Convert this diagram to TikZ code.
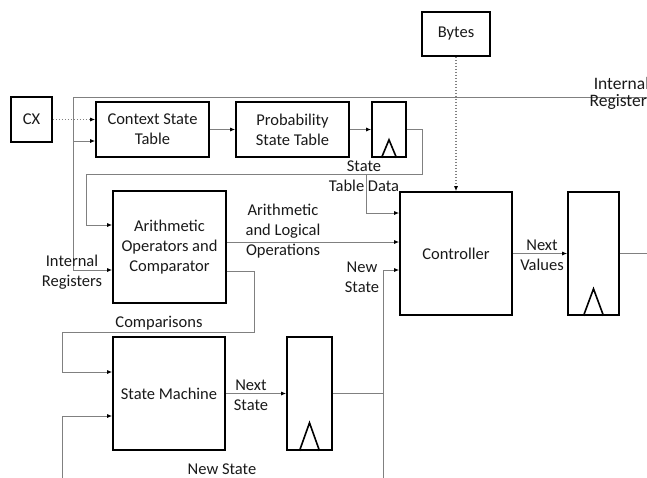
\documentclass[tikz,border=0pt]{standalone}
\usepackage{fontspec}
\setmainfont{Carlito}
\usetikzlibrary{arrows.meta}
\definecolor{lc}{RGB}{128,128,128}
\definecolor{tc}{RGB}{25,25,25}
\newcommand\dfont{\fontsize{16.5}{20}\selectfont}
\begin{document}
\begin{tikzpicture}[x=1pt,y=-1pt,
  box/.style={draw=black,line width=1.6pt,inner sep=0pt,align=center,text=tc,font=\dfont},
  conn/.style={draw=lc,line width=1pt},
  dotline/.style={draw=lc,line width=1.3pt,dash pattern=on 1.5pt off 1.5pt},
  arr/.style={-{Latex[length=5pt,width=4pt,color=black]}},
  lbl/.style={align=center,text=tc,font=\dfont,inner sep=0pt},
  clk/.style={draw=black,line width=1.6pt,line join=miter}]
\useasboundingbox (0,0) rectangle (647,477);
\clip (0,0) rectangle (647,477);
% boxes
\node[box,minimum width=41pt,minimum height=45pt] (cx) at (31.5,119.5) {CX};
\node[box,minimum width=113pt,minimum height=55pt] (cst) at (152.5,129.5) {Context State\\Table};
\node[box,minimum width=113pt,minimum height=55pt] (pst) at (292.5,129.5) {Probability\\State Table};
\node[box,minimum width=34pt,minimum height=55pt] (reg1) at (389,129.5) {};
\node[box,minimum width=68pt,minimum height=44pt] (bytes) at (456,34) {Bytes};
\node[box,minimum width=113pt,minimum height=112pt] (arith) at (169.5,247) {Arithmetic\\Operators and\\Comparator};
\node[box,minimum width=112pt,minimum height=123pt] (ctrl) at (456,253.5) {Controller};
\node[box,minimum width=51pt,minimum height=123pt] (reg3) at (593.5,253.5) {};
\node[box,minimum width=112pt,minimum height=113pt] (sm) at (169,393.5) {State Machine};
\node[box,minimum width=45pt,minimum height=113pt] (reg2) at (309.5,393.5) {};
% clock triangles
\draw[clk] (reg1.south) ++(-7.5,0) -- ++(7.5,-18) -- ++(7.5,18);
\draw[clk] (reg2.south) ++(-10,0) -- ++(10,-28) -- ++(10,28);
\draw[clk] (reg3.south) ++(-10,0) -- ++(10,-27) -- ++(10,27);
% coordinates
\coordinate (bus) at (73,97);
\coordinate (busR) at (650,97);
\coordinate (fbR) at (422,129.5);
\coordinate (loopB) at (383,485);
% connectors
\draw[conn] (bus) -- (busR);
\draw[conn,arr] (bus) -- (73,270) -- (arith.west |- 0,270);
\draw[conn,arr] (73,141) -- (cst.west |- 0,141);
\draw[dotline,arr] (cx.east) -- (cst.west |- cx.east);
\draw[conn,arr] (cst) -- (pst);
\draw[conn,arr] (pst) -- (reg1);
\draw[conn,arr] (reg1.east) -- (fbR) -- (422,174) -- (86,174) -- (86,225) -- (arith.west |- 0,225);
\draw[conn,arr] (366,174) -- (366,213) -- (ctrl.west |- 0,213);
\draw[conn,arr] (arith.east |- 0,242) -- (ctrl.west |- 0,242);
\draw[conn,arr] (arith.east |- 0,271) -- (254,271) -- (254,332) -- (62,332) -- (62,372) -- (sm.west |- 0,372);
\draw[conn,arr] (sm) -- (reg2);
\draw[conn] (reg2.east) -- (383,393.5);
\draw[conn,arr] (loopB) -- (383,270) -- (ctrl.west |- 0,270);
\draw[conn,arr] (loopB) -- (62,485) -- (62,416) -- (sm.west |- 0,416);
\draw[dotline,arr] (bytes.south) -- (ctrl.north);
\draw[conn,arr] (ctrl) -- (reg3);
\draw[conn] (reg3.east) -- (650,253.5);
% labels
\node[lbl,font=\fontsize{17.5}{17}\selectfont] (lIR) at (621.5,93.5) {Internal\\Registers};
\node[lbl] (lSTD) at (364,176) {State\\Table Data};
\node[lbl] (lALO) at (283,231) {Arithmetic\\and Logical\\Operations};
\node[lbl] (lIR2) at (72,272) {Internal\\Registers};
\node[lbl] (lNS1) at (362,277) {New\\State};
\node[lbl] (lNV) at (542,255) {Next\\Values};
\node[lbl] (lCmp) at (159,323) {Comparisons};
\node[lbl] (lNS2) at (251,395) {Next\\State};
\node[lbl] (lNS3) at (222,469) {New State};
\end{tikzpicture}
\end{document}
